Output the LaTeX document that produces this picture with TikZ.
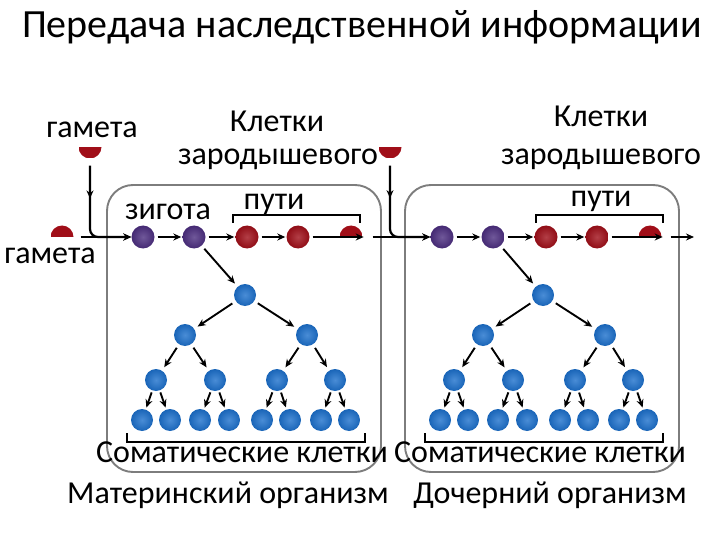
\documentclass[tikz,border=0pt]{standalone}
\usepackage{fontspec}
\setmainfont{Carlito}
\usetikzlibrary{arrows.meta,decorations.markings}

\definecolor{germred}{RGB}{160,14,24}
\definecolor{zygviolet}{RGB}{76,46,128}
\definecolor{somablue}{RGB}{28,112,204}
\definecolor{boxgray}{RGB}{125,125,125}

\begin{document}
\begin{tikzpicture}[
    x=1pt, y=-1pt,
    >={Stealth[length=8pt,width=7pt]},
    cell/.style={circle, inner sep=0pt, minimum size=23pt},
    zyg/.style={cell, inner color=zygviolet!80!white, outer color=zygviolet!90!black},
    germ/.style={cell, inner color=germred!80!white, outer color=germred!90!black},
    soma/.style={cell, minimum size=22pt, inner color=somablue!80!white, outer color=somablue!90!black},
    uphalf/.style={cell, path picture={\fill[germred] (path picture bounding box.west) rectangle (path picture bounding box.north east);}},
    downhalf/.style={cell, path picture={\fill[germred] (path picture bounding box.west) rectangle (path picture bounding box.south east);}},
    flow/.style={->, line width=2.2pt},
    treearr/.style={->, line width=1.9pt, shorten >=4pt, shorten <=4pt},
    organism/.style={draw=boxgray, line width=1.9pt, rounded corners=26pt},
    midarr/.style={postaction={decorate}, decoration={markings, mark=at position 0.3 with {\arrow{>}}}},
    mylabel/.style={font=\fontsize{32}{34}\selectfont, anchor=base, inner sep=0pt}
]
    \useasboundingbox (0,0) rectangle (720,540);

    % Title
    \node[mylabel, font=\fontsize{40}{44}\selectfont] (title) at (362,38) {Передача наследственной информации};

    % Organisms
    \draw[organism] (107,185) rectangle (381,472);
    \draw[organism] (405,185) rectangle (679,472);

    % Gametes
    \node[downhalf] (L-gT) at (90,147) {};
    \node[uphalf] (L-gL) at (62,237) {};
    \node[downhalf] (R-gT) at (390,147) {};

    % Germ line
    \foreach \s/\cx in {L/143,R/442}{
        \node[zyg] (\s-z1) at (\cx,237) {};
        \node[zyg] (\s-z2) at (\cx+51,237) {};
        \node[germ] (\s-k1) at (\cx+104,237) {};
        \node[germ] (\s-k2) at (\cx+155,237) {};
        \node[uphalf] (\s-h) at (\cx+208,237) {};
        \draw[flow, shorten <=3pt, shorten >=1pt] (\s-z1) -- (\s-z2);
        \draw[flow, shorten <=3pt, shorten >=1pt] (\s-z2) -- (\s-k1);
        \draw[flow, shorten <=3pt, shorten >=1pt] (\s-k1) -- (\s-k2);
        \draw[flow, shorten <=3pt, shorten >=-1pt] (\s-k2) -- (\s-h.east);
    }
    \coordinate (R-end) at (694,237);

    % Fertilisation
    \draw[flow, midarr, rounded corners=8pt] ([yshift=-7pt]L-gT.south) |- (L-z1);
    \draw[flow, shorten <=7pt] (L-gL.east) -- (L-z1);
    \draw[flow, midarr, rounded corners=8pt] ([yshift=-7pt]R-gT.south) |- (R-z1);
    \draw[flow, shorten <=10pt] (L-h.east) -- (R-z1);
    \draw[flow, shorten <=9pt] (R-h.east) -- (R-end);

    % Soma
    \foreach \s/\cx in {L/245,R/543}{
        \node[soma] (\s-r) at (\cx,295) {};
        \foreach \i/\dx in {1/-60,2/62}
            \node[soma] (\s-a\i) at (\cx+\dx,335) {};
        \foreach \i/\dx in {1/-89,2/-30,3/32,4/90}
            \node[soma] (\s-b\i) at (\cx+\dx,380) {};
        \foreach \i/\dx in {1/-103,2/-75,3/-45,4/-16,5/17,6/45,7/76,8/104}
            \node[soma] (\s-c\i) at (\cx+\dx,420) {};
        \draw[treearr] (\s-z2) -- (\s-r);
        \foreach \i in {1,2}
            \draw[treearr] (\s-r) -- (\s-a\i);
        \foreach \i/\p in {1/1,2/1,3/2,4/2}
            \draw[treearr] (\s-a\p) -- (\s-b\i);
        \foreach \i/\p in {1/1,2/1,3/2,4/2,5/3,6/3,7/4,8/4}
            \draw[treearr, shorten >=2pt, shorten <=2pt] (\s-b\p) -- (\s-c\i);
        \draw[line width=1.8pt] ([shift={(-15,2)}]\s-c1.south) -- ++(0,9) -| ([shift={(16,2)}]\s-c8.south);
    }

    % Brackets over germ cells
    \draw[line width=2pt] (233,223) -- (233,215) -- (360,215) -- (360,223);
    \draw[line width=2pt] (536,223) -- (536,215) -- (663,215) -- (663,223);

    % Labels
    \node[mylabel] (gam1) at (92,138) {гамета};
    \node[mylabel] (gam2) at (50,263) {гамета};
    \node[mylabel] (zyg) at (168,220) {зигота};
    \node[mylabel] (kl1) at (277,132) {Клетки};
    \node[mylabel] (zar1) at (278,165) {зародышевого};
    \node[mylabel] (put1) at (274,210) {пути};
    \node[mylabel] (kl2) at (601,127) {Клетки};
    \node[mylabel] (zar2) at (601,165) {зародышевого};
    \node[mylabel] (put2) at (601,207) {пути};
    \node[mylabel] (som1) at (242,462) {Соматические клетки};
    \node[mylabel] (som2) at (540,462) {Соматические клетки};
    \node[mylabel] (mat) at (228,503) {Материнский организм};
    \node[mylabel] (doch) at (550,503) {Дочерний организм};
\end{tikzpicture}
\end{document}
